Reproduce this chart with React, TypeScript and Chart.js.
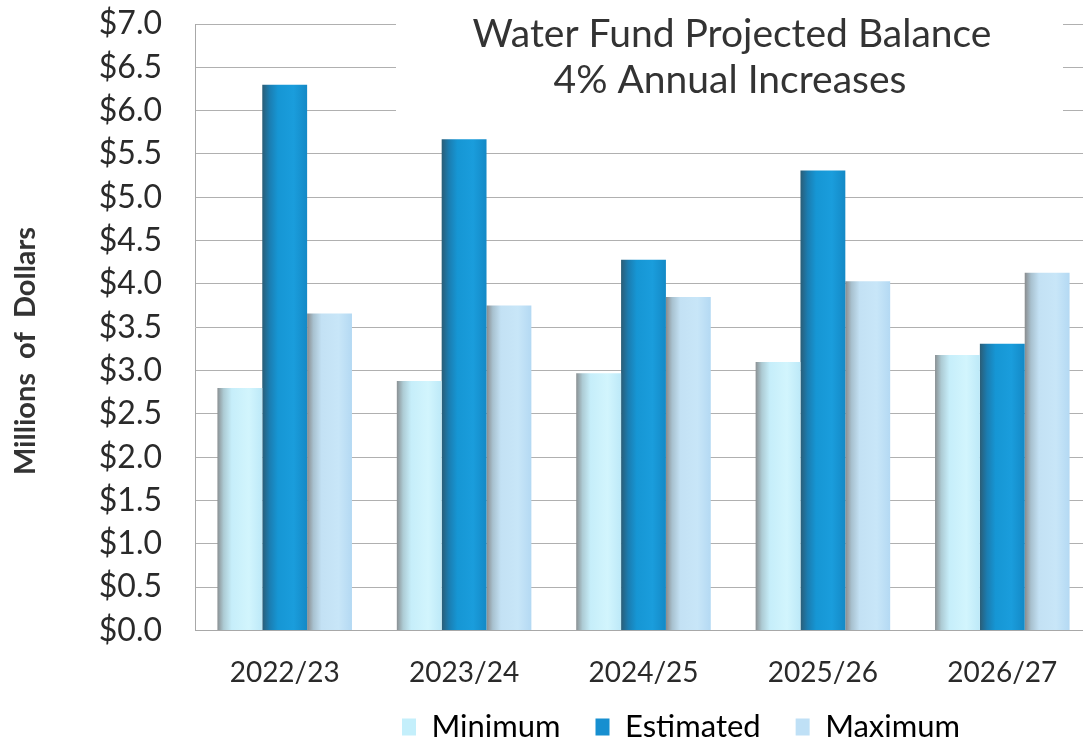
import React, { useEffect, useRef } from "react";
import { Chart, registerables } from "chart.js";

Chart.register(...registerables);

const categories = ["2022/23", "2023/24", "2024/25", "2025/26", "2026/27"];
const seriesNames = ["Minimum", "Estimated", "Maximum"];
const minimumValues = [2.8, 2.88, 2.97, 3.1, 3.18];
const estimatedValues = [6.3, 5.67, 4.28, 5.31, 3.31];
const maximumValues = [3.66, 3.75, 3.85, 4.03, 4.13];
const titleLines = ["Water Fund Projected Balance", "4% Annual Increases"];
const yAxisTitle = "Millions  of  Dollars";
const yMin = 0;
const yMax = 7;
const yStep = 0.5;

const FONT = "Lato, 'Open Sans', sans-serif";
const CAT_PCT = 0.75;

const minStops: [number, string][] = [
  [0, "#8a9093"],
  [0.14, "#adcbd4"],
  [0.32, "#c6eefa"],
  [0.7, "#d2f5fd"],
  [1, "#bde9f8"],
];
const estStops: [number, string][] = [
  [0, "#2b5d76"],
  [0.16, "#1b7db1"],
  [0.35, "#1696d4"],
  [0.7, "#1a9ddc"],
  [1, "#1489c6"],
];
const maxStops: [number, string][] = [
  [0, "#898b8d"],
  [0.14, "#a8c1cf"],
  [0.32, "#c3e1f4"],
  [0.7, "#c8e6f8"],
  [1, "#b4d9f3"],
];
const legendColors = ["#c4effb", "#178fd0", "#bfe0f6"];

function barFill(stops: [number, string][]) {
  return (ctx: any) => {
    const chart = ctx.chart;
    const xs = chart.scales && chart.scales.x;
    if (!xs || ctx.type !== "data") return stops[2][1];
    const n = chart.data.labels.length;
    const catW = (xs.right - xs.left) / n;
    const groupW = catW * CAT_PCT;
    const barW = groupW / 3;
    const cx = xs.getPixelForValue(ctx.dataIndex);
    const left = cx - groupW / 2 + ctx.datasetIndex * barW;
    const g = chart.ctx.createLinearGradient(left, 0, left + barW, 0);
    stops.forEach(([o, c]) => g.addColorStop(o, c));
    return g;
  };
}

const overlayText = {
  id: "overlayText",
  beforeDatasetsDraw(chart: any) {
    const ctx = chart.ctx;
    ctx.save();
    ctx.fillStyle = "#ffffff";
    ctx.fillRect(396, 12, 667, 120);
    ctx.fillStyle = "#333333";
    ctx.font = `39px ${FONT}`;
    ctx.textAlign = "center";
    ctx.textBaseline = "alphabetic";
    ctx.fillText(titleLines[0], 732, 47);
    ctx.fillText(titleLines[1], 730, 93);
    ctx.restore();
  },
  afterDraw(chart: any) {
    const ctx = chart.ctx;
    ctx.save();
    ctx.translate(26, 351);
    ctx.rotate(-Math.PI / 2);
    ctx.fillStyle = "#333333";
    ctx.font = `bold 29px ${FONT}`;
    ctx.textAlign = "center";
    ctx.textBaseline = "middle";
    ctx.fillText(yAxisTitle, 0, 0);
    ctx.restore();
  },
};

const legendPlace = {
  id: "legendPlace",
  beforeLayout(chart: any) {
    const lg = chart.legend;
    if (lg && !lg.__patched) {
      const orig = lg.fit.bind(lg);
      lg.fit = function () {
        orig();
        this.height = 45;
      };
      lg.__patched = true;
    }
  },
  afterLayout(chart: any) {
    const lg = chart.legend;
    if (!lg || !lg.lineWidths) return;
    const lab = lg.options.labels;
    const pad = lab.padding;
    const lw = lg.lineWidths[0];
    const x0 = (lg.left + pad + lg.right - lw) / 2;
    const dx = 402 - x0;
    lg.left += dx;
    lg.right += dx;
    const itemH = Math.max(lab.boxHeight || 0, lab.font.size);
    lg.top = 727 - pad - itemH / 2;
    lg.bottom = chart.height;
    lg.height = lg.bottom - lg.top;
  },
};

export default function App() {
  const ref = useRef<HTMLCanvasElement>(null);
  useEffect(() => {
    if (!ref.current) return;
    const chart = new Chart(ref.current, {
      type: "bar",
      data: {
        labels: categories,
        datasets: [
          { label: seriesNames[0], data: minimumValues, backgroundColor: barFill(minStops) },
          { label: seriesNames[1], data: estimatedValues, backgroundColor: barFill(estStops) },
          { label: seriesNames[2], data: maximumValues, backgroundColor: barFill(maxStops) },
        ],
      },
      options: {
        animation: false,
        responsive: true,
        maintainAspectRatio: false,
        datasets: { bar: { categoryPercentage: CAT_PCT, barPercentage: 1.0 } },
        layout: { padding: { top: 24, left: 0, right: 0, bottom: 0 } },
        plugins: {
          title: { display: false },
          tooltip: { enabled: false },
          legend: {
            display: true,
            position: "bottom",
            fullSize: false,
            labels: {
              font: { family: FONT, size: 31 },
              color: "#2a2a2a",
              boxWidth: 14,
              boxHeight: 17,
              padding: 35,
              generateLabels: () =>
                seriesNames.map((name, i) => ({
                  text: name,
                  fillStyle: legendColors[i],
                  strokeStyle: legendColors[i],
                  lineWidth: 0,
                  hidden: false,
                  datasetIndex: i,
                })),
            },
          },
        },
        scales: {
          x: {
            grid: { display: false, drawTicks: false },
            border: { display: true, color: "#a8a8a8", width: 1 },
            ticks: {
              font: { family: FONT, size: 28 },
              color: "#2a2a2a",
              padding: 26,
              maxRotation: 0,
            },
            afterFit: (s: any) => {
              s.height = 71.5;
            },
          },
          y: {
            min: yMin,
            max: yMax,
            ticks: {
              stepSize: yStep,
              autoSkip: false,
              font: { family: FONT, size: 32 },
              color: "#2a2a2a",
              padding: 33,
              callback: (v: any) => "$" + Number(v).toFixed(1),
            },
            grid: { color: "#b0b0b0", lineWidth: 1, drawTicks: false },
            border: { display: true, color: "#a8a8a8", width: 1 },
            title: { display: false },
            afterFit: (s: any) => {
              s.width = 195;
              s.paddingTop = 0;
              s.paddingBottom = 0;
            },
          },
        },
      },
      plugins: [overlayText, legendPlace],
    });
    return () => chart.destroy();
  }, []);

  return (
    <div
      style={{
        position: "fixed",
        left: 0,
        top: 0,
        width: 1083,
        height: 747,
        overflow: "hidden",
        background: "#ffffff",
      }}
    >
      <div style={{ position: "relative", width: 1092, height: 747 }}>
        <canvas ref={ref} />
      </div>
    </div>
  );
}
